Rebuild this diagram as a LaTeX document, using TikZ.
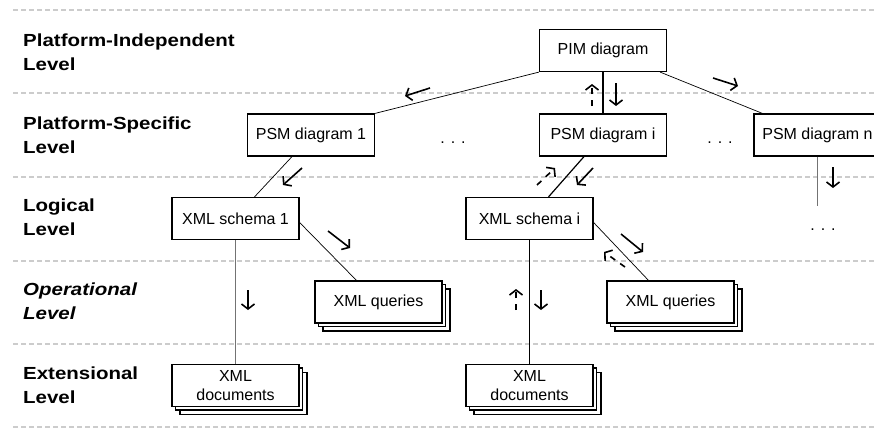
\documentclass[tikz,border=0pt]{standalone}
\usepackage{fontspec}
\setmainfont{Liberation Sans}
\newfontfamily\levelfont[FakeStretch=1.17]{Liberation Sans}
\usetikzlibrary{arrows.meta,shadows}

\tikzset{
  model/.style={draw, line width=1.2pt, fill=white, minimum width=127pt, minimum height=42pt,
    inner sep=2pt, align=center, font=\fontsize{16}{19}\selectfont},
  stack/.style={model,
    copy shadow={shadow xshift=8pt, shadow yshift=-8pt, draw=black, fill=white, line width=1.2pt},
    copy shadow={shadow xshift=3.5pt, shadow yshift=-3.5pt, draw=black, fill=white, line width=1.2pt}},
  level/.style={anchor=west, align=left, inner sep=0pt, font=\levelfont\fontsize{17.5}{24}\selectfont\bfseries},
  oplevel/.style={level, font=\levelfont\fontsize{17.5}{24}\selectfont\bfseries\itshape},
  sep/.style={draw=black!20, line width=1.8pt, dash pattern=on 5pt off 3pt},
  link/.style={line width=0.7pt},
  mainlink/.style={line width=1.2pt},
  greylink/.style={line width=1pt, draw=black!55},
  dir/.style={line width=1.6pt, -{Straight Barb[length=5pt,width=13pt]}},
  back/.style={dir, dash pattern=on 6pt off 6pt},
  dots/.style={font=\fontsize{16}{19}\selectfont}
}

\begin{document}
\begin{tikzpicture}[x=1pt, y=-1pt]
  \useasboundingbox (0,0) rectangle (874,428);
  \clip (0,0) rectangle (874,428);

  \foreach \y in {10,93,177,261,344,427}
    \draw[sep] (13,\y) -- (874,\y);

  \node[level]   (lpi)  at (23,52)  {Platform-Independent\\Level};
  \node[level]   (lps)  at (23,135) {Platform-Specific\\Level};
  \node[level]   (llog) at (23,217) {Logical\\Level};
  \node[oplevel] (lop)  at (23,301) {Operational\\Level};
  \node[level]   (lext) at (23,385) {Extensional\\Level};

  \node[model] (pim)  at (603,50.5)  {PIM diagram};
  \node[model] (psm1) at (311,135)   {PSM diagram 1};
  \node[model] (psmi) at (603,135)   {PSM diagram i};
  \node[model] (psmn) at (817.5,135) {PSM diagram n};
  \node[model] (xs1)  at (235.5,218.5) {XML schema 1};
  \node[model] (xsi)  at (529.5,218.5) {XML schema i};
  \node[stack] (xq1)  at (378.5,302) {XML queries};
  \node[stack] (xqi)  at (670.5,302) {XML queries};
  \node[stack] (xd1)  at (235.5,385.5) {XML\\documents};
  \node[stack] (xdi)  at (529.5,385.5) {XML\\documents};

  \node[dots] (dots1) at (453,143) {. . .};
  \node[dots] (dots2) at (720,143) {. . .};
  \node[dots] (dots3) at (823,230) {. . .};
  \coordinate (psmnend) at (817.5,206);

  \draw[link] (pim.south west) -- (psm1.north east);
  \draw[mainlink] (pim) -- (psmi);
  \draw[link] ([xshift=-7pt]pim.south east) -- ([xshift=9pt]psmn.north west);
  \draw[link] ([xshift=-19pt]psm1.south) -- ([xshift=19pt]xs1.north);
  \draw[mainlink] ([xshift=-19pt]psmi.south) -- ([xshift=19pt]xsi.north);
  \draw[greylink] (psmn.south) -- (psmnend);
  \draw[link] ([yshift=-4pt]xs1.east) -- ([xshift=-22pt]xq1.north);
  \draw[greylink] (xs1) -- (xd1);
  \draw[link] ([yshift=-4pt]xsi.east) -- ([xshift=-22pt]xqi.north);
  \draw[mainlink] (xsi) -- (xdi);

  \draw[dir] (430,88) -- (405,96);
  \draw[dir] (616,83) -- (616,106);
  \draw[back] (592,106) -- (592,84);
  \draw[dir] (713,78) -- (738,86);
  \draw[dir] (302,168) -- (283,185);
  \draw[dir] (593,168) -- (577,185);
  \draw[back] (537,185) -- (555,168);
  \draw[dir] (833,167) -- (833,188);
  \draw[dir] (328,231) -- (350,248);
  \draw[dir] (248,290) -- (248,310);
  \draw[dir] (621,234) -- (643,252);
  \draw[back] (625,267) -- (604,252);
  \draw[dir] (541,290) -- (541,310);
  \draw[back] (516,310) -- (516,289);
\end{tikzpicture}
\end{document}
